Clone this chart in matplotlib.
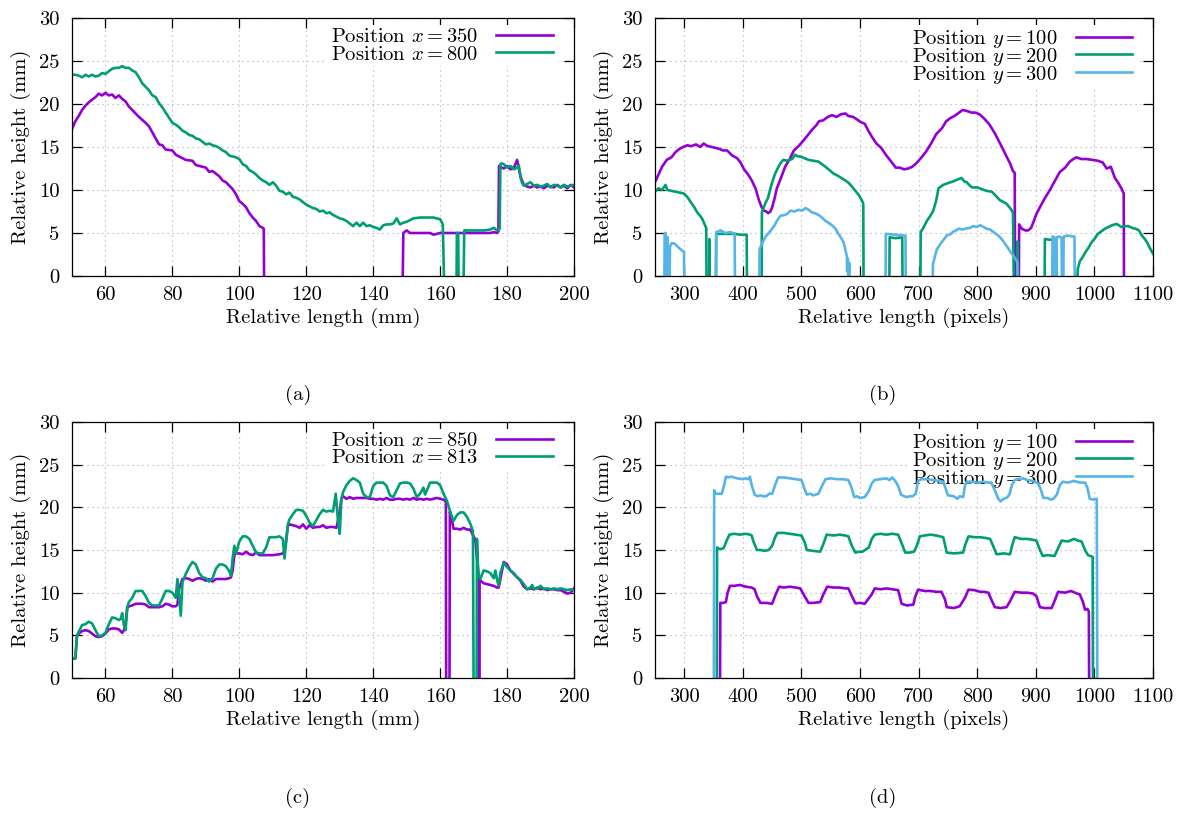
import matplotlib
matplotlib.use('Agg')
import matplotlib.pyplot as plt
from matplotlib.patches import Rectangle

plt.rcParams['font.family'] = 'serif'
plt.rcParams['font.serif'] = ['cmr10']
plt.rcParams['mathtext.fontset'] = 'cm'
plt.rcParams['axes.unicode_minus'] = False
plt.rcParams['font.size'] = 14.8

PURPLE = '#9400d3'
GREEN = '#009e73'
BLUE = '#56b4e9'

# values below 0 mark points where the profile falls off the bottom of the plot
# ---- (a) lengthwise profiles, mm ----
a350_x = [50, 51, 52, 53, 54, 55, 56, 57, 58, 59,
          60, 61, 62, 63, 64, 65, 66, 67, 68, 70,
          72, 73, 74, 75, 76, 77, 78, 80, 81, 82,
          84, 86, 87, 88, 90, 91, 92, 94, 95, 96,
          98, 99, 100, 101, 102, 103, 104, 105, 106, 107,
          107.3, 107.4, 148.8, 149, 150, 151, 155, 157, 158, 160,
          164, 170, 175, 176, 177, 177.4, 177.6, 178, 179, 180,
          181, 182, 182.5, 183, 183.5, 184, 185, 186, 187, 188,
          189, 190, 191, 192, 193, 194, 195, 196, 197, 198,
          199, 200]
a350_y = [17.1, 18.0, 18.6, 19.3, 19.8, 20.2, 20.5, 20.8, 21.2, 21.0,
          21.3, 21.0, 21.1, 20.7, 21.0, 20.6, 20.3, 19.7, 19.3, 18.5,
          17.8, 17.4, 16.7, 16.0, 15.3, 15.2, 14.7, 14.6, 14.1, 13.9,
          13.5, 13.4, 12.9, 12.8, 12.6, 12.1, 12.2, 11.6, 11.1, 10.9,
          10.1, 9.5, 8.7, 8.4, 8.0, 7.3, 6.8, 6.4, 5.8, 5.6,
          5.5, -1, -1, 5.0, 5.3, 5.0, 5.0, 5.0, 4.8, 5.0,
          5.0, 5.0, 5.0, 5.1, 5.0, 5.2, 12.8, 12.7, 12.5, 12.8,
          12.4, 12.6, 13.0, 13.5, 12.6, 11.6, 10.6, 10.4, 10.3, 10.5,
          10.3, 10.4, 10.2, 10.5, 10.4, 10.3, 10.6, 10.3, 10.5, 10.2,
          10.6, 10.3]

a800_x = [50, 51, 52, 53, 54, 55, 56, 57, 58, 59,
          60, 61, 62, 63, 64, 65, 66, 67, 68, 69,
          70, 71, 72, 73, 74, 75, 76, 77, 78, 79,
          80, 81, 82, 83, 84, 85, 86, 87, 88, 89,
          90, 91, 92, 93, 94, 95, 96, 97, 98, 99,
          100, 101, 102, 103, 104, 105, 106, 107, 108, 109,
          110, 111, 112, 113, 114, 115, 116, 117, 118, 119,
          120, 121, 122, 123, 124, 125, 126, 127, 128, 129,
          130, 131, 132, 133, 134, 135, 136, 137, 138, 139,
          140, 141, 142, 143, 144, 145, 146, 147, 148, 149,
          150, 151, 152, 154, 156, 158, 159, 160, 160.8, 161.2,
          164.9, 165.0, 165.4, 165.5, 167.0, 167.2, 170, 173, 175, 176,
          177, 177.8, 178.0, 178.5, 179, 180, 181, 182, 183, 183.5,
          184, 184.5, 185, 186, 187, 188, 189, 190, 191, 192,
          193, 194, 195, 196, 197, 198, 199, 200]
a800_y = [23.4, 23.4, 23.3, 23.1, 23.4, 23.2, 23.4, 23.2, 23.3, 23.6,
          23.5, 23.8, 24.1, 24.2, 24.2, 24.4, 24.2, 24.2, 23.9, 23.7,
          23.1, 22.4, 22.0, 21.6, 21.0, 20.8, 20.1, 19.6, 19.0, 18.4,
          17.8, 17.6, 17.3, 16.9, 16.7, 16.4, 16.3, 16.0, 15.9, 15.6,
          15.3, 15.4, 15.2, 15.1, 14.9, 14.6, 14.4, 14.0, 13.9, 13.8,
          13.6, 13.0, 12.8, 12.3, 12.1, 11.8, 11.4, 11.1, 10.9, 10.6,
          10.9, 10.5, 9.9, 9.8, 9.5, 9.7, 9.2, 9.1, 8.9, 8.6,
          8.3, 8.1, 7.9, 7.8, 7.5, 7.6, 7.3, 7.4, 7.1, 6.9,
          6.7, 6.6, 6.4, 6.1, 5.8, 6.2, 5.8, 6.2, 5.8, 5.9,
          5.7, 5.6, 5.4, 5.9, 6.0, 6.0, 6.1, 6.7, 6.0, 6.2,
          6.3, 6.5, 6.7, 6.8, 6.8, 6.8, 6.7, 6.6, 6.0, -1,
          -1, 5.0, 5.0, -1, -1, 5.3, 5.3, 5.3, 5.4, 5.6,
          5.3, 5.5, 13.0, 13.1, 13.0, 12.6, 12.8, 12.4, 12.6, 12.9,
          11.5, 10.8, 10.5, 10.7, 10.9, 10.5, 10.6, 10.4, 10.5, 10.7,
          10.3, 10.6, 10.5, 10.3, 10.6, 10.4, 10.5, 10.6]

# ---- (b) crosswise profiles, pixels ----
b100_x = [250, 256, 262, 270, 278, 285, 292, 298, 305, 312,
          320, 327, 333, 340, 347, 353, 359, 366, 373, 382,
          390, 396, 402, 409, 416, 422, 427, 432, 436, 440,
          443, 447, 450, 454, 458, 465, 472, 480, 487, 495,
          504, 511, 518, 525, 530, 537, 545, 552, 560, 567,
          575, 580, 588, 595, 601, 608, 614, 621, 628, 636,
          644, 652, 661, 668, 675, 682, 689, 696, 705, 713,
          722, 730, 740, 747, 755, 761, 767, 775, 782, 790,
          797, 804, 812, 821, 830, 839, 845, 850, 856, 861,
          864, 864.5, 871, 871.5, 876, 882, 887, 892, 896, 901,
          907, 915, 924, 932, 941, 950, 958, 964, 969, 978,
          986, 997, 1006, 1014, 1021, 1028, 1035, 1041, 1046, 1050,
          1050.5, 1100]
b100_y = [10.9, 11.8, 12.7, 13.5, 13.8, 14.4, 14.8, 15.0, 15.2, 15.1,
          15.3, 15.0, 15.4, 15.1, 15.0, 14.9, 14.8, 14.6, 14.6, 14.0,
          13.7, 13.2, 12.4, 11.8, 11.0, 10.1, 8.9, 8.0, 7.6, 7.5,
          7.3, 7.5, 8.0, 9.0, 10.2, 11.4, 12.7, 13.6, 14.6, 15.1,
          15.8, 16.4, 17.0, 17.5, 18.0, 18.1, 18.5, 18.7, 18.5, 18.8,
          18.9, 18.6, 18.5, 18.2, 17.9, 17.7, 16.9, 16.1, 15.4, 14.9,
          14.1, 13.4, 12.6, 12.6, 12.4, 12.5, 12.7, 13.1, 13.8, 14.5,
          15.5, 16.5, 17.2, 18.0, 18.4, 18.6, 18.9, 19.3, 19.2, 19.0,
          19.0, 18.8, 18.3, 17.6, 16.6, 15.4, 14.6, 13.9, 13.1, 12.2,
          12.0, -1, -1, 6.0, 5.5, 5.3, 5.3, 5.6, 6.3, 7.2,
          8.0, 9.0, 10.0, 11.0, 12.1, 12.6, 13.3, 13.6, 13.8, 13.6,
          13.6, 13.5, 13.4, 13.2, 12.5, 12.7, 11.4, 10.8, 10.2, 9.6,
          -1, -1]

b200_x = [250, 256, 262, 268, 271, 278, 285, 292, 299, 305,
          311, 317, 322, 327, 331, 336, 337.5, 338, 342.5, 343,
          343.5, 354, 354.5, 370, 387, 395, 406.5, 407, 432, 432.5,
          438, 443, 447, 451, 455, 460, 464, 469, 476, 484,
          489, 494, 498, 505, 512, 520, 529, 535, 541, 548,
          555, 561, 568, 575, 581, 586, 592, 598, 603, 605.5,
          606, 650, 650.5, 660, 672, 672.5, 703, 703.5, 708, 714,
          720, 725, 730, 734, 738, 742, 750, 759, 766, 773,
          778, 782, 786, 791, 800, 808, 816, 825, 832, 839,
          845, 850, 856, 861, 862.5, 868, 868.5, 869.5, 915, 915.5,
          925, 930, 935, 935.5, 971, 971.5, 975, 980, 984, 990,
          995, 1001, 1006, 1012, 1018, 1024, 1030, 1038, 1046, 1052,
          1058, 1064, 1070, 1076, 1081, 1086, 1090, 1095, 1100]
b200_y = [9.8, 10.2, 10.0, 10.6, 10.0, 9.9, 9.8, 9.7, 9.6, 9.2,
          8.6, 8.0, 7.4, 7.0, 6.6, 5.8, 5.6, -1, -1, 4.3,
          -1, -1, 4.9, 4.9, 4.9, 4.8, 4.8, -1, -1, 7.4,
          8.4, 9.1, 10.2, 11.1, 11.9, 12.6, 13.1, 13.5, 13.4, 13.6,
          14.1, 13.9, 13.9, 13.7, 13.5, 13.4, 13.3, 13.0, 12.7, 12.3,
          11.9, 11.7, 11.4, 11.1, 10.8, 10.4, 9.9, 9.4, 8.8, 8.4,
          -1, -1, 4.5, 4.4, 4.5, -1, -1, 5.1, 5.6, 6.4,
          7.0, 7.6, 8.8, 10.2, 10.4, 10.6, 10.8, 11.0, 11.2, 11.4,
          11.0, 10.9, 10.6, 10.3, 10.3, 10.1, 9.9, 9.8, 9.3, 8.8,
          8.6, 8.4, 7.9, 7.4, -1, -1, 4.0, -1, -1, 4.3,
          4.2, 4.3, 4.2, -1, -1, 0.8, 1.7, 2.2, 2.7, 3.3,
          3.9, 4.4, 4.9, 5.2, 5.5, 5.7, 5.9, 6.05, 5.7, 5.8,
          5.8, 5.6, 5.5, 5.3, 4.7, 4.3, 3.9, 3.2, 2.6]

b300_x = [266, 266.5, 268, 268.5, 270, 270.5, 271.5, 272, 275, 275.5,
          278, 282, 286, 292, 297, 299.5, 300, 354, 354.5, 362,
          370, 379, 386, 386.5, 428, 428.5, 433, 438, 444, 450,
          455, 458, 464, 472, 477, 481, 488, 495, 501, 507,
          512, 518, 523, 529, 535, 541, 546, 552, 558, 563,
          568, 572, 575, 577.5, 578, 579, 580, 580.5, 581.5, 582,
          643.5, 644, 660, 677.5, 678, 724, 724.5, 731, 739, 748,
          755, 759, 764, 768, 775, 782, 788, 793, 799, 805,
          811, 816, 822, 828, 834, 839, 845, 850, 856, 862,
          866, 868.5, 869, 928, 928.5, 931, 931.5, 935, 935.5, 940,
          944, 944.5, 947, 947.5, 955, 962, 966, 966.5]
b300_y = [-1, 5.0, 5.0, -1, -1, 4.5, 4.5, -1, -1, 3.4,
          3.8, 3.8, 3.6, 3.2, 2.9, 2.8, -1, -1, 5.1, 5.3,
          5.0, 5.1, 4.9, -1, -1, 3.1, 3.8, 4.5, 5.0, 5.5,
          6.0, 6.4, 7.0, 7.1, 7.3, 7.6, 7.5, 7.7, 7.6, 7.9,
          7.7, 7.4, 7.3, 7.1, 6.8, 6.4, 6.2, 5.9, 5.5, 4.9,
          4.4, 3.9, 3.0, 2.3, 0.5, 2.0, 1.6, -1, 1.5, -1,
          -1, 4.9, 4.8, 4.7, -1, -1, 1.4, 3.1, 3.9, 4.7,
          4.9, 5.15, 5.3, 5.5, 5.4, 5.55, 5.6, 5.8, 5.7, 5.9,
          5.7, 5.5, 5.4, 5.1, 4.8, 4.5, 4.0, 3.5, 2.9, 2.3,
          1.9, 1.6, -1, -1, 4.6, 4.5, -1, -1, 4.5, 4.6,
          4.4, -1, -1, 4.6, 4.7, 4.6, 4.6, -1]

# ---- (c) lengthwise profiles, mm ----
c850_x = [50, 51, 51.5, 52, 53, 54, 55, 56, 57, 58,
          59, 60, 61, 62, 63, 64, 65, 65.5, 66, 66.5,
          67, 68, 69, 70, 71, 72, 73, 74, 75, 76,
          77, 78, 79, 80, 81, 81.5, 82, 82.5, 83, 84,
          85, 86, 87, 88, 89, 90, 91, 92, 93, 94,
          95, 96, 97, 97.5, 98, 98.5, 99, 100, 101, 102,
          103, 104, 105, 106, 107, 108, 110, 112, 113, 113.5,
          114, 114.5, 115, 116, 117, 118, 119, 120, 121, 122,
          123, 124, 125, 126, 127, 128, 129, 129.5, 130, 130.5,
          131, 132, 133, 134, 135, 136, 137, 138, 139, 140,
          141, 142, 143, 144, 145, 146, 147, 148, 149, 150,
          151, 152, 153, 154, 155, 156, 157, 158, 159, 160,
          161, 161.7, 161.8, 162.8, 162.9, 163.5, 164, 165, 166, 167,
          168, 169, 169.5, 170.5, 171.5, 171.6, 171.7, 171.8, 173, 174,
          175, 176, 177, 177.5, 178, 179, 180, 181, 182, 183,
          184, 185, 186, 187, 188, 189, 190, 191, 192, 193,
          194, 195, 196, 197, 198, 199, 200]
c850_y = [2.3, 2.3, 5.0, 5.2, 5.5, 5.6, 5.5, 5.2, 4.9, 4.8,
          4.9, 5.2, 5.7, 5.8, 5.8, 5.7, 5.3, 5.6, 6.2, 8.2,
          8.4, 8.5, 8.7, 8.7, 8.7, 8.6, 8.3, 8.3, 8.3, 8.3,
          8.4, 8.7, 8.6, 8.4, 8.4, 8.6, 10.5, 11.0, 11.6, 11.7,
          11.6, 11.4, 11.6, 11.7, 11.6, 11.4, 11.6, 11.3, 11.6, 11.6,
          11.6, 11.6, 11.7, 11.8, 12.6, 14.4, 14.6, 14.6, 14.5, 14.8,
          14.5, 14.4, 14.7, 14.4, 14.4, 14.4, 14.4, 14.5, 14.6, 14.9,
          16.2, 17.8, 18.0, 17.9, 17.8, 17.6, 18.0, 17.5, 17.9, 17.6,
          17.7, 17.7, 17.9, 17.6, 17.7, 17.7, 17.6, 18.5, 19.5, 21.0,
          21.3, 21.0, 21.2, 21.0, 21.1, 21.1, 21.1, 21.1, 21.0, 21.0,
          20.9, 21.0, 20.9, 21.1, 20.9, 20.9, 21.0, 21.0, 20.9, 21.0,
          20.9, 21.1, 20.9, 21.0, 20.9, 21.0, 20.9, 21.0, 21.1, 21.0,
          20.9, 20.7, -1, -1, 19.5, 18.6, 17.5, 17.5, 17.4, 17.6,
          17.4, 17.4, 17.0, 16.2, 12.0, -1, -1, 11.5, 11.1, 11.0,
          10.9, 10.8, 10.6, 10.6, 11.6, 13.6, 13.3, 12.6, 12.2, 11.8,
          11.4, 10.7, 10.4, 10.5, 10.4, 10.6, 10.4, 10.5, 10.3, 10.4,
          10.4, 10.3, 10.3, 10.1, 9.9, 10.0, 10.5]

c813_x = [50, 51, 51.5, 52, 53, 54, 55, 56, 57, 58,
          59, 60, 61, 62, 63, 64, 64.5, 65, 65.5, 66,
          66.5, 67, 68, 69, 70, 71, 72, 73, 74, 75,
          76, 77, 78, 79, 80, 81, 81.5, 82, 82.5, 83,
          84, 85, 86, 87, 88, 89, 90, 91, 92, 93,
          94, 95, 96, 97, 97.5, 98, 98.5, 99, 100, 101,
          102, 103, 104, 105, 106, 107, 108, 109, 110, 111,
          112, 113, 113.5, 114.5, 115, 116, 117, 118, 119, 120,
          121, 122, 123, 124, 125, 126, 127, 128, 128.8, 129.5,
          130, 130.5, 131, 132, 133, 134, 135, 136, 137, 138,
          139, 140, 141, 142, 143, 144, 145, 146, 147, 148,
          149, 150, 151, 152, 153, 154, 155, 155.5, 156.5, 157,
          158, 159, 160, 161, 162, 163, 164, 165, 166, 167,
          168, 169, 169.8, 170, 170.9, 171, 171.4, 172, 173, 174,
          175, 176, 176.5, 177, 177.5, 178, 179, 180, 181, 182,
          183, 184, 185, 186, 187, 187.5, 188, 189, 190, 191,
          192, 193, 194, 195, 196, 197, 198, 199, 200]
c813_y = [2.3, 2.3, 5.0, 5.4, 6.2, 6.3, 6.6, 6.4, 5.6, 4.9,
          5.0, 5.3, 6.3, 7.1, 7.0, 6.8, 6.9, 7.6, 6.2, 5.6,
          8.3, 8.9, 9.4, 10.2, 10.2, 10.2, 9.6, 8.8, 8.5, 8.5,
          8.5, 9.3, 10.2, 10.2, 10.0, 9.4, 11.6, 9.6, 7.3, 11.2,
          12.2, 13.0, 13.6, 13.3, 12.3, 11.8, 11.7, 11.3, 11.7, 12.8,
          13.3, 13.3, 13.1, 12.5, 12.0, 14.0, 15.5, 14.6, 16.0, 16.6,
          16.6, 16.3, 15.5, 14.7, 14.6, 14.6, 15.3, 16.5, 16.5, 16.5,
          16.6, 16.3, 14.0, 18.0, 18.6, 19.2, 19.7, 19.7, 19.6, 19.0,
          18.2, 17.8, 18.5, 19.2, 19.7, 19.5, 19.6, 19.5, 21.6, 18.3,
          16.9, 21.0, 21.8, 22.6, 23.1, 23.4, 23.2, 22.9, 21.6, 21.2,
          21.2, 22.5, 22.9, 22.9, 22.9, 22.5, 21.4, 21.2, 22.0, 22.8,
          22.9, 22.9, 22.8, 22.2, 21.2, 21.6, 22.3, 21.5, 22.4, 22.9,
          22.9, 22.9, 22.6, 21.6, 20.8, 19.5, 18.4, 19.1, 19.4, 19.4,
          18.9, 18.1, 17.2, -1, -1, 16.3, 12.2, 11.6, 12.6, 12.5,
          12.3, 11.7, 12.6, 11.5, 10.8, 12.3, 13.5, 13.0, 12.6, 12.3,
          11.8, 11.5, 11.0, 10.4, 10.6, 10.9, 10.4, 10.5, 10.8, 10.4,
          10.5, 10.4, 10.5, 10.4, 10.5, 10.4, 10.3, 10.4, 10.3]

# ---- (d) crosswise profiles, pixels ----
d100_x = [361, 361.5, 366, 371, 374, 378, 385, 395, 405, 415,
          420, 424, 430, 440, 450, 456, 462, 470, 480, 490,
          498, 506, 512, 520, 532, 538, 544, 555, 565, 575,
          580, 586, 592, 600, 608, 620, 625, 635, 645, 655,
          665, 671, 680, 691, 694, 699, 710, 720, 730, 739,
          745, 748, 760, 770, 779, 785, 795, 805, 812, 819,
          824, 830, 840, 850, 856, 864, 875, 885, 895, 901,
          907, 915, 927, 933, 938, 950, 960, 970, 975, 980,
          984, 988, 990.5, 991]
d100_y = [-1, 8.8, 8.8, 8.9, 10.0, 10.8, 10.8, 10.9, 10.7, 10.6,
          10.4, 9.6, 8.8, 8.8, 8.7, 9.8, 10.7, 10.6, 10.7, 10.6,
          10.5, 9.5, 8.8, 8.8, 8.9, 9.9, 10.7, 10.6, 10.6, 10.5,
          10.5, 9.6, 8.75, 8.8, 8.7, 9.8, 10.5, 10.4, 10.5, 10.4,
          10.3, 8.7, 8.5, 8.6, 9.5, 10.35, 10.2, 10.2, 10.1, 10.1,
          9.2, 8.3, 8.2, 8.4, 9.4, 10.35, 10.3, 10.1, 10.1, 10.0,
          9.2, 8.3, 8.2, 8.3, 9.0, 10.1, 10.0, 10.0, 9.9, 9.6,
          8.3, 8.2, 8.2, 9.2, 10.1, 10.0, 10.2, 9.9, 9.8, 9.0,
          8.0, 8.1, 7.8, -1]

d200_x = [355.5, 356, 360, 367, 373, 377, 385, 395, 405, 412,
          415, 418, 424, 430, 437, 444, 450, 455, 459, 470,
          480, 490, 500, 506, 509, 520, 532, 538, 543, 555,
          565, 575, 580, 586, 592, 598, 604, 615, 620, 625,
          635, 645, 655, 665, 671, 677, 685, 692, 697, 702,
          710, 720, 730, 742, 745, 748, 760, 776, 779, 785,
          795, 805, 815, 822, 830, 833, 845, 856, 859, 864,
          875, 885, 895, 901, 907, 912, 920, 932, 938, 944,
          955, 965, 972, 978, 984, 989, 993, 997, 997.5]
d200_y = [-1, 15.3, 15.1, 15.2, 16.2, 16.8, 16.9, 16.8, 16.9, 16.8,
          16.7, 16.0, 15.0, 15.0, 14.9, 15.0, 15.5, 16.5, 17.0, 17.0,
          16.9, 16.8, 16.7, 15.8, 15.0, 14.9, 14.8, 15.8, 16.8, 16.7,
          16.8, 16.7, 16.6, 15.5, 14.7, 14.8, 14.8, 15.3, 16.3, 16.8,
          16.9, 16.8, 16.9, 16.8, 15.8, 14.7, 14.7, 14.8, 15.5, 16.6,
          16.7, 16.8, 16.7, 16.5, 15.6, 14.7, 14.6, 14.7, 15.5, 16.6,
          16.5, 16.5, 16.4, 16.3, 15.0, 14.5, 14.6, 14.5, 15.4, 16.5,
          16.3, 16.3, 16.2, 16.1, 15.0, 14.3, 14.4, 14.3, 15.2, 16.1,
          16.0, 16.3, 16.1, 16.0, 15.0, 14.4, 14.3, 14.2, -1]

d300_x = [350.5, 351, 353, 364, 368, 371, 375, 380, 390, 400,
          405, 410, 412, 415, 420, 425, 430, 435, 440, 445,
          450, 455, 460, 470, 480, 490, 500, 505, 509, 515,
          520, 529, 535, 541, 550, 560, 570, 580, 585, 590,
          595, 600, 608, 615, 620, 625, 635, 645, 650, 655,
          660, 665, 670, 675, 680, 685, 690, 695, 699, 705,
          715, 725, 735, 742, 746, 750, 760, 766, 770, 776,
          779, 782, 790, 800, 810, 818, 824, 830, 836, 840,
          845, 850, 855, 859, 864, 870, 878, 885, 895, 904,
          909, 913, 920, 925, 930, 936, 941, 946, 955, 965,
          975, 984, 988, 992, 998, 1004, 1005]
d300_y = [-1, 22.0, 21.6, 21.6, 22.6, 23.6, 23.5, 23.6, 23.4, 23.3,
          23.4, 23.3, 23.6, 22.6, 21.5, 21.3, 21.4, 21.3, 21.3, 21.6,
          21.6, 22.6, 23.5, 23.5, 23.4, 23.3, 23.2, 22.2, 21.5, 21.6,
          21.4, 21.6, 22.5, 23.3, 23.4, 23.3, 23.3, 23.2, 22.4, 21.2,
          21.3, 21.1, 21.2, 21.9, 22.8, 23.2, 23.3, 23.4, 23.2, 23.5,
          23.1, 22.5, 21.5, 21.3, 21.2, 21.3, 21.3, 21.6, 23.1, 23.3,
          23.3, 23.2, 23.1, 23.0, 22.2, 21.4, 21.3, 21.0, 21.3, 21.2,
          22.5, 23.0, 23.0, 22.9, 23.0, 22.9, 22.9, 22.0, 21.0, 20.7,
          21.0, 21.1, 21.5, 22.6, 23.2, 23.3, 23.4, 23.2, 23.1, 22.8,
          22.0, 21.1, 21.1, 20.9, 21.0, 21.5, 22.6, 23.0, 22.9, 23.1,
          22.9, 22.9, 22.3, 21.0, 20.9, 21.0, -1]

mm_ticks = [60, 80, 100, 120, 140, 160, 180, 200]
px_ticks = [300, 400, 500, 600, 700, 800, 900, 1000, 1100]
height_ticks = [0, 5, 10, 15, 20, 25, 30]


def style_axes(ax, xlim, xticks, xlabel):
    ax.set_xlim(*xlim)
    ax.set_ylim(0, 30)
    ax.set_xticks(xticks)
    ax.set_yticks(height_ticks)
    ax.set_axisbelow(True)
    ax.grid(True, linestyle=(0, (1, 3.5)), color='#a8a8a8', linewidth=0.8)
    ax.tick_params(direction='in', top=True, right=True, length=7.5, width=0.9)
    ax.tick_params(axis='y', pad=9)
    ax.tick_params(axis='x', pad=7)
    for sp in ax.spines.values():
        sp.set_linewidth(0.9)
    ax.set_xlabel(xlabel, labelpad=3)
    ax.set_ylabel('Relative height (mm)', labelpad=6)


def add_legend(ax, spacing):
    leg = ax.legend(loc='upper right', bbox_to_anchor=(0.958, 0.962),
                    frameon=False, markerfirst=False, handlelength=2.75,
                    handletextpad=0.9, labelspacing=spacing, borderpad=0,
                    borderaxespad=0)
    leg.set_zorder(1.5)
    return leg


fig = plt.figure(figsize=(11.81, 8.13), dpi=100)
ax_a = fig.add_axes([0.06097, 0.66052, 0.42506, 0.31734])
ax_b = fig.add_axes([0.55461, 0.66052, 0.42168, 0.31734])
ax_c = fig.add_axes([0.06097, 0.16605, 0.42506, 0.31488])
ax_d = fig.add_axes([0.55461, 0.16605, 0.42168, 0.31488])

lw = 1.9
ax_a.plot(a350_x, a350_y, color=PURPLE, lw=lw, label=r'Position $x = 350$')
ax_a.plot(a800_x, a800_y, color=GREEN, lw=lw, label=r'Position $x = 800$')
style_axes(ax_a, (50, 200), mm_ticks, 'Relative length (mm)')

ax_b.plot(b100_x, b100_y, color=PURPLE, lw=lw, label=r'Position $y = 100$')
ax_b.plot(b200_x, b200_y, color=GREEN, lw=lw, label=r'Position $y = 200$')
ax_b.plot(b300_x, b300_y, color=BLUE, lw=lw, label=r'Position $y = 300$')
style_axes(ax_b, (250, 1100), px_ticks, 'Relative length (pixels)')

ax_c.plot(c850_x, c850_y, color=PURPLE, lw=lw, label=r'Position $x = 850$')
ax_c.plot(c813_x, c813_y, color=GREEN, lw=lw, label=r'Position $x = 813$')
style_axes(ax_c, (50, 200), mm_ticks, 'Relative length (mm)')

ax_d.plot(d100_x, d100_y, color=PURPLE, lw=lw, label=r'Position $y = 100$')
ax_d.plot(d200_x, d200_y, color=GREEN, lw=lw, label=r'Position $y = 200$')
ax_d.plot(d300_x, d300_y, color=BLUE, lw=lw, label=r'Position $y = 300$')
style_axes(ax_d, (250, 1100), px_ticks, 'Relative length (pixels)')

# $y$ has a descender, so those keys need a tighter row spacing
legends = {ax_a: add_legend(ax_a, -0.05), ax_b: add_legend(ax_b, -0.2),
           ax_c: add_legend(ax_c, -0.05), ax_d: add_legend(ax_d, -0.2)}

# the key area hides the grid (as gnuplot does), lines still run over it
fig.canvas.draw()
for ax, leg in legends.items():
    bb = leg.get_window_extent().transformed(ax.transAxes.inverted())
    ax.add_patch(Rectangle((bb.x0 - 0.01, bb.y0 - 0.01), bb.width + 0.02,
                           min(bb.height + 0.02, 0.985 - bb.y0),
                           transform=ax.transAxes, facecolor='white',
                           edgecolor='none', zorder=1))

for label, x, y in [('(a)', 298, 395), ('(b)', 883, 395),
                    ('(c)', 298, 798), ('(d)', 883, 798)]:
    fig.text(x / 1181, 1 - y / 813, label, ha='center', va='center')

fig.savefig('out.png', dpi=100)
